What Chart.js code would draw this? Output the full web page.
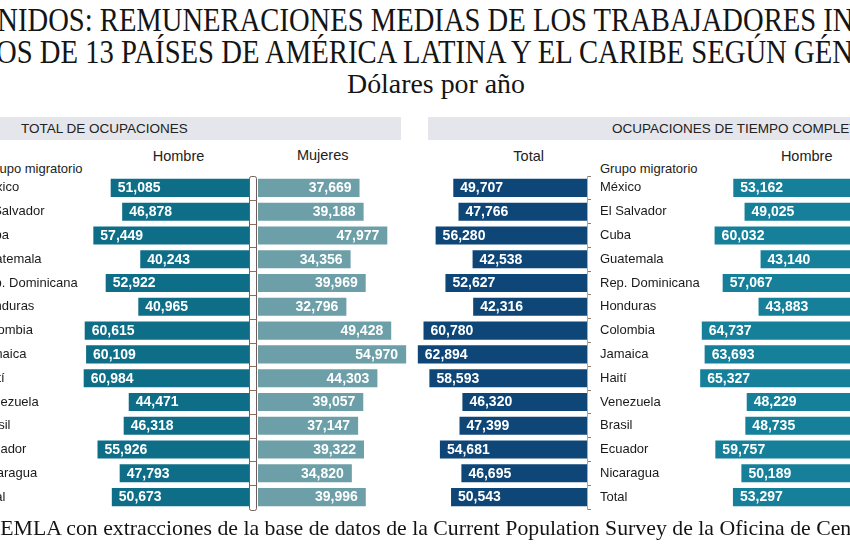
<!DOCTYPE html>
<html><head><meta charset="utf-8">
<script src="https://cdn.jsdelivr.net/npm/chart.js@4.4.1/dist/chart.umd.min.js"></script>
<style>
html,body{margin:0;padding:0;background:#fff;overflow:hidden;width:850px;height:550px}
#wrap{position:relative;width:850px;height:550px;overflow:hidden;background:#fff}
.serif{position:absolute;white-space:nowrap;font-family:"Liberation Serif","Times New Roman",serif;color:#141414;transform-origin:0 0;line-height:1}
.sans{position:absolute;white-space:nowrap;font-family:"Liberation Sans",Arial,sans-serif;color:#222}
.band{position:absolute;background:#e5e6eb;height:23px;top:117px}
.hdr{font-size:14.5px;line-height:16px;width:120px;text-align:center}
canvas{position:absolute}
</style></head><body>
<div id="wrap">
 <div class="serif" id="t1" style="top:3px;font-size:34px"><span class="pre">ESTADOS U</span><span class="a">NIDOS: REMUNERACIONES MEDIAS DE LOS TRABAJADORES </span>INMIGRANTES</div>
 <div class="serif" id="t2" style="top:35px;font-size:34px"><span class="a">OS DE 13 PAÍSES DE AMÉRICA LATINA Y EL CARIBE SEGÚN </span>GÉNERO</div>
 <div class="serif" id="t3" style="top:71px;font-size:27px"><span class="a">Dólares por año</span></div>

 <div class="band" style="left:0;width:401px"></div>
 <div class="band" style="left:428px;width:430px"></div>
 <div class="sans" style="left:21px;top:121px;font-size:13.5px;line-height:16px">TOTAL DE OCUPACIONES</div>
 <div class="sans" style="left:612px;top:121px;font-size:13.5px;line-height:16px">OCUPACIONES DE TIEMPO COMPLETO</div>

 <div class="sans hdr" style="left:118.5px;top:148px">Hombre</div>
 <div class="sans hdr" style="left:262.7px;top:147px">Mujeres</div>
 <div class="sans hdr" style="left:468.7px;top:148px">Total</div>
 <div class="sans hdr" style="left:746.7px;top:148px">Hombre</div>
 <div class="sans" style="left:-15px;top:161px;font-size:13px;line-height:16px">Grupo migratorio</div>
 <div class="sans" style="left:600px;top:161px;font-size:13px;line-height:16px">Grupo migratorio</div>

 <canvas id="cH1" width="272" height="373" style="left:-22px;top:156px;width:272px;height:373px"></canvas>
 <canvas id="cM1" width="166" height="373" style="left:244px;top:156px;width:166px;height:373px"></canvas>
 <canvas id="cT2" width="317" height="373" style="left:400px;top:156px;width:317px;height:373px"></canvas>
 <canvas id="cH2" width="188" height="373" style="left:690px;top:156px;width:188px;height:373px"></canvas>

 <div class="serif" id="src" style="top:518px;font-size:21px"><span class="pre">Fuente: C</span><span class="a">EMLA con extracciones de la base de datos de la </span>Current Population Survey de la Oficina de Censos</div>
</div>
<script>
// ---- Data ----
const countries = ["México","El Salvador","Cuba","Guatemala","Rep. Dominicana","Honduras","Colombia","Jamaica","Haití","Venezuela","Brasil","Ecuador","Nicaragua","Total"];
const hombreTotalOcup = [51085,46878,57449,40243,52922,40965,60615,60109,60984,44471,46318,55926,47793,50673];
const mujeresTotalOcup = [37669,39188,47977,34356,39969,32796,49428,54970,44303,39057,37147,39322,34820,39996];
const totalTiempoCompleto = [49707,47766,56280,42538,52627,42316,60780,62894,58593,46320,47399,54681,46695,50543];
const hombreTiempoCompleto = [53162,49025,60032,43140,57067,43883,64737,63693,65327,48229,48735,59757,50189,53297];

// ---- Text fitting ----
function fit(id, start, end) {
  const el = document.getElementById(id);
  const pre = el.querySelector('.pre'), a = el.querySelector('.a');
  const pw = pre ? pre.getBoundingClientRect().width : 0;
  const aw = a.getBoundingClientRect().width;
  const s = (end - start) / aw;
  el.style.left = (start - pw * s) + 'px';
  el.style.transform = 'scaleX(' + s + ')';
}
fit('t1', -3, 823);
fit('t2', -4, 794);
fit('t3', 347, 525);
fit('src', 0, 433);

// ---- Chart.js ----
Chart.defaults.font.family = '"Liberation Sans", Arial, sans-serif';
Chart.defaults.color = '#1a1a1a';
const fmt = v => v.toLocaleString('en-US');

const valueLabels = {
  id: 'valueLabels',
  afterDatasetsDraw(chart, args, opts) {
    const ctx = chart.ctx;
    const meta = chart.getDatasetMeta(0);
    const data = chart.data.datasets[0].data;
    ctx.save();
    ctx.font = 'bold 14px "Liberation Sans", Arial, sans-serif';
    ctx.fillStyle = '#ffffff';
    ctx.textBaseline = 'middle';
    meta.data.forEach((bar, i) => {
      const txt = fmt(data[i]);
      if (opts.side === 'left') {
        ctx.textAlign = 'left';
        ctx.fillText(txt, bar.x + 7, bar.y + 0.5);
      } else {
        ctx.textAlign = 'right';
        ctx.fillText(txt, bar.x - 8, bar.y + 0.5);
      }
    });
    ctx.restore();
  }
};

const divider = {
  id: 'divider',
  afterDraw(chart) {
    const ctx = chart.ctx, ca = chart.chartArea, y = chart.scales.y;
    const x0 = ca.left - 8.5, w = 7;
    const top = ca.top + 0.5, bottom = ca.bottom + 1.5;
    ctx.save();
    ctx.fillStyle = '#ffffff';
    ctx.fillRect(x0, top, w, bottom - top);
    ctx.strokeStyle = '#6e5d58';
    ctx.lineWidth = 1;
    ctx.beginPath();
    if (ctx.roundRect) ctx.roundRect(x0, top, w, bottom - top, 2); else ctx.rect(x0, top, w, bottom - top);
    ctx.stroke();
    ctx.strokeStyle = '#8a6f64';
    ctx.beginPath();
    for (let i = 1; i < y.ticks.length; i++) {
      const yy = Math.round((y.getPixelForTick(i - 1) + y.getPixelForTick(i)) / 2) + 0.5;
      ctx.moveTo(x0, yy); ctx.lineTo(x0 + w, yy);
    }
    ctx.stroke();
    ctx.restore();
  }
};

function cfg(values, color, xMax, side, yScale, extra) {
  return {
    type: 'bar',
    data: { labels: countries, datasets: [{ data: values, backgroundColor: color, borderWidth: 0, barPercentage: 0.76, categoryPercentage: 1 }] },
    options: {
      indexAxis: 'y', responsive: false, animation: false, devicePixelRatio: 1,
      layout: { padding: { top: 20, bottom: 20, left: 0, right: 0 } },
      events: [],
      plugins: { legend: { display: false }, tooltip: { enabled: false }, valueLabels: { side: side } },
      scales: {
        x: { type: 'linear', display: false, min: 0, max: xMax, reverse: side === 'left' },
        y: yScale
      }
    },
    plugins: [valueLabels].concat(extra || [])
  };
}

new Chart(document.getElementById('cH1'), cfg(hombreTotalOcup, '#0f6e87', 62340, 'left', {
  position: 'left', grid: { display: false }, border: { display: false },
  ticks: { crossAlign: 'far', padding: 0, autoSkip: false, font: { size: 13 }, color: '#1a1a1a' },
  afterFit(a) { a.width = 102; }
}));

new Chart(document.getElementById('cM1'), cfg(mujeresTotalOcup, '#6c9fa7', 56400, 'right', {
  position: 'left', grid: { display: false }, border: { display: false },
  ticks: { display: false },
  afterFit(a) { a.width = 14; }
}, [divider]));

new Chart(document.getElementById('cT2'), cfg(totalTiempoCompleto, '#0e4677', 69517, 'left', {
  position: 'right',
  grid: { drawOnChartArea: false, drawTicks: true, tickLength: 4, color: '#8d7a70', lineWidth: 1 },
  border: { display: true, color: '#b3a9a3', width: 1 },
  ticks: { padding: 9, autoSkip: false, font: { size: 13 }, color: '#1a1a1a' },
  afterFit(a) { a.width = 130; }
}));

new Chart(document.getElementById('cH2'), cfg(hombreTiempoCompleto, '#16809a', 69067, 'left', {
  display: false
}));
</script>
</body></html>
